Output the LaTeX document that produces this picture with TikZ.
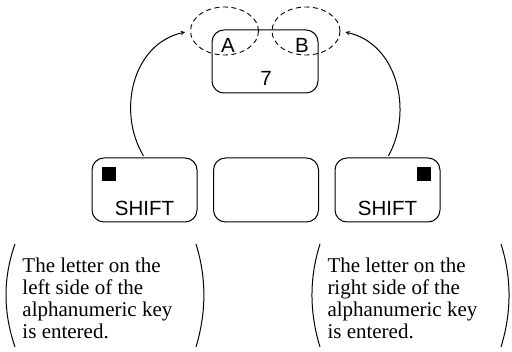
\documentclass[tikz,border=0pt]{standalone}
\usepackage{fontspec}
\setmainfont{Liberation Serif}
\setsansfont{Liberation Sans}
\usetikzlibrary{positioning,shapes.geometric}

\tikzset{
  key/.style={draw,rounded corners=12pt,line width=1pt,minimum width=105pt,minimum height=64pt,inner sep=0pt},
  keysq/.style={fill=black,minimum size=14pt,inner sep=0pt},
  keylbl/.style={font=\sffamily\fontsize{20.5}{22}\selectfont,inner sep=0pt},
  bubble/.style={draw,ellipse,dashed,dash pattern=on 5pt off 3.5pt,line width=0.9pt,minimum width=68pt,minimum height=48pt,inner sep=0pt},
  note/.style={font=\fontsize{21}{22}\selectfont,align=left,inner sep=0pt},
}

\begin{document}
\begin{tikzpicture}[x=1pt,y=-1pt,>=stealth,line width=1pt]
  \useasboundingbox (0,0) rectangle (512,352);
  % upper key with its two letters
  \node[key,minimum width=106pt,minimum height=63pt] (k7) at (265,61.5) {};
  \node[keylbl] (n7) at (266,78.5) {7};
  \node[keylbl] (la) at (228,45) {A};
  \node[keylbl] (lb) at (302,45) {B};
  \node[bubble] (ella) at (224.5,31) {};
  \node[bubble] (ellb) at (306,31) {};
  % lower row
  \node[key] (lkey) at (144.5,190) {};
  \node[key,right=15.5pt of lkey] (mkey) {};
  \node[key,right=15.5pt of mkey] (rkey) {};
  \node[keysq,below right=9.5pt and 10pt of lkey.north west] (lsq) {};
  \node[keysq,below left=9.5pt and 9pt of rkey.north east] (rsq) {};
  \node[keylbl,above=6.5pt of lkey.south] (lshift) {SHIFT};
  \node[keylbl,above=6.5pt of rkey.south] (rshift) {SHIFT};
  \draw[->,shorten <=2pt,shorten >=5pt] (lkey.north) .. controls (117,112) and (132,44) .. (ella.west);
  \draw[->,shorten <=2pt,shorten >=5pt] (rkey.north) .. controls (413,112) and (398,44) .. (ellb.east);
  % notes
  \node[note,anchor=north west] (ltxt) at (22,257) {The letter on the\\left side of the\\alphanumeric key\\is entered.};
  \node[note,anchor=north west] (rtxt) at (327,257) {The letter on the\\right side of the\\alphanumeric key\\is entered.};
  \draw (15,244) .. controls (3,278) and (3,312) .. (15,347);
  \draw (196,244) .. controls (206.5,278) and (206.5,312) .. (196,347);
  \draw (320,244) .. controls (309.3,278) and (309.3,312) .. (320,347);
  \draw (501,244) .. controls (511.7,278) and (511.7,312) .. (501,347);
\end{tikzpicture}
\end{document}
